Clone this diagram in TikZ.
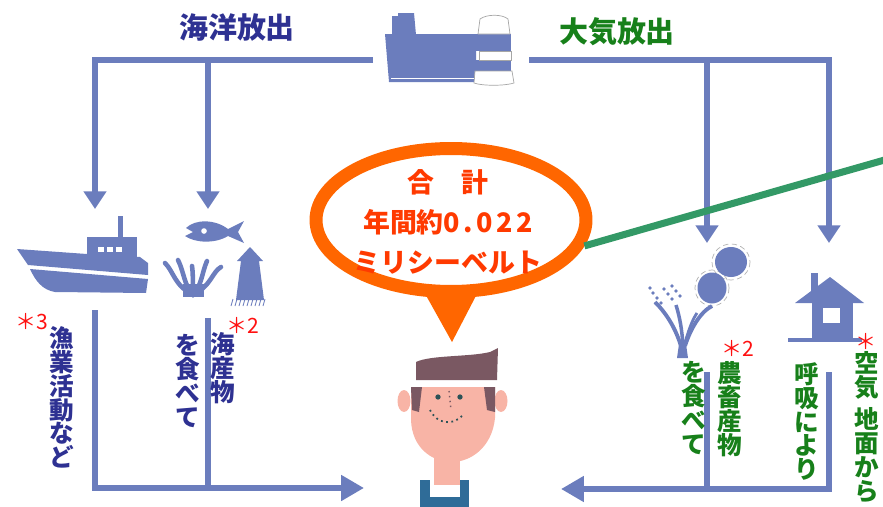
\documentclass[tikz,border=0pt]{standalone}
\usepackage{fontspec}
\newfontfamily\jp{Noto Sans CJK JP}
\usetikzlibrary{arrows.meta,shapes.geometric,calc}
\definecolor{flow}{HTML}{6B7DBD}
\definecolor{sea}{HTML}{2E3192}
\definecolor{air}{HTML}{17801A}
\definecolor{tot}{HTML}{FF6600}
\definecolor{totx}{HTML}{FF3A00}
\definecolor{star}{HTML}{FF1010}
\definecolor{lnk}{HTML}{339966}
\definecolor{skin}{HTML}{F8B4A6}
\definecolor{hair}{HTML}{7A5862}
\definecolor{shirt}{HTML}{2F6C98}
\definecolor{eye}{HTML}{2C5257}
\tikzset{
  pipe/.style={line width=3.5pt,draw=flow},
  ar/.style={pipe,-{Triangle[length=10pt,width=12.5pt]}},
  bar/.style={pipe,-{Triangle[length=13pt,width=14pt]}},
  ttl/.style={inner sep=0pt,font=\jp\bfseries\fontsize{16.5}{18}\selectfont},
  vlab/.style={inner sep=0pt,anchor=north,align=center,font=\jp\bfseries\fontsize{14}{13.6}\selectfont},
  ast/.style={inner sep=0pt,text=star,font=\jp\fontsize{12}{12}\selectfont},
}

\begin{document}
\begin{tikzpicture}[x=0.02cm,y=-0.02cm]
\useasboundingbox (0,0) rectangle (883,507);
\clip (0,0) rectangle (883,507);

% ---- release headings ----
\node[ttl,text=sea] (ocean) at (237,28) {海洋放出};
\node[ttl,text=air] (atmos) at (617,32) {大気放出};

% ---- plant ----
\fill[flow] (392,35) -- (392,16) -- (398,16) -- (398,13) -- (414,13) -- (416,35) -- cycle;
\fill[flow] (385,34) -- (476,34) -- (476,82) -- (389,82) -- cycle;
\draw[white,thin] (391,78) -- (474,78);
\fill[flow] (476,34) rectangle (511,51); \fill[flow] (476,60) rectangle (511,71);
\filldraw[fill=white,draw=gray!70,thin] (478,34) -- (480,19) .. controls (487,14) and (502,14) .. (508,19) -- (510,34) -- cycle;
\filldraw[fill=white,draw=gray!70,thin] (479,51) rectangle (511,60);
\filldraw[fill=white,draw=gray!70,thin] (475,71) -- (512,71) -- (514,83) .. controls (505,86) and (482,86) .. (474,83) -- cycle;
\coordinate (plant-w) at (373,60);
\coordinate (plant-e) at (529,60);

% ---- ocean side ----
\coordinate (boat-in) at (95,209);
\coordinate (fish-in) at (208,209);
\draw[ar] (plant-w) -| (boat-in);
\draw[ar] (fish-in|-plant-w) -- (fish-in);
% boat
\fill[flow] (118,216) rectangle (123,238);
\fill[flow] (87,237) rectangle (137,257);
\foreach \w in {98,107,116}{\fill[white] (\w,247) rectangle ++(6,5);}
\fill[flow] (17,249) -- (87,254) -- (140,257) -- (148,263) -- (148,275) -- (28,265) -- cycle;
\fill[flow] (30,269) -- (148,279) -- (146,293) -- (55,292) .. controls (42,290) and (35,280) .. (30,269) -- cycle;
% fish
\fill[flow] (186,228) .. controls (195,219) and (215,219) .. (228,229) -- (244,221) -- (238,232) -- (244,243)
  -- (228,236) .. controls (215,244) and (195,243) .. (185,236) -- (193,232) -- cycle;
\fill[white] (204,231) circle [radius=1.6pt];
% seaweed
\fill[flow] (183,284) rectangle (204,297);
\foreach \tx/\ty/\cx in {165/263/174,178/260/184,192/266/193,207/261/202,221/267/212}{
  \draw[flow,line width=2.6pt,line cap=round] (193,295) .. controls (\cx,285) and (\cx,272) .. (\tx,\ty);}
% lighthouse
\fill[flow] (250,247) -- (263,261) -- (259,261) -- (264,300) -- (236,300) -- (241,261) -- (237,261) -- cycle;
\foreach \g in {233,237,...,267}{\draw[flow,line width=0.5pt] (\g,299) -- (\g-2,306);}

% ---- air side ----
\coordinate (crop-in) at (707,243);
\coordinate (house-in) at (829,243);
\draw[ar] (plant-e) -| (house-in);
\draw[ar] (crop-in|-plant-e) -- (crop-in);
% potatoes
\draw[gray!60,densely dashed,thin] (731,262) ellipse [x radius=19,y radius=18] (712,288) ellipse [x radius=17,y radius=18];
\fill[flow] (731,262) ellipse [x radius=16,y radius=15];
\fill[flow] (712,288) ellipse [x radius=14.5,y radius=15.5];
% rice
\fill[flow] (677,358) -- (679,344) -- (686,344) -- (688,358) -- cycle;
\draw[flow,line width=2.2pt] (681,346) .. controls (676,330) and (668,315) .. (655,302);
\draw[flow,line width=2pt] (683,346) .. controls (682,330) and (680,318) .. (676,305);
\draw[flow,line width=2.2pt] (685,346) .. controls (690,330) and (700,312) .. (712,306);
\draw[flow,line width=1.6pt] (684,346) .. controls (688,332) and (692,320) .. (697,313);
\foreach \gx/\gy in {650/288,653/293,657/298,661/303,664/289,668/294,672/299,672/286,676/291,680/296}{
  \fill[flow] (\gx,\gy) circle [radius=1.1pt];}
% house
\fill[flow] (811,273) rectangle (818,292);
\fill[flow] (795,303) -- (830,277) -- (864,303) -- cycle;
\fill[flow] (812,300) rectangle (853,340);
\fill[white] (823,308) rectangle (840,323);
\draw[flow,line width=2pt] (788,340) -- (862,340);

% ---- total ----
\fill[tot] (423,290) -- (479,290) -- (452,342) -- cycle;
\node[ellipse,draw=tot,fill=white,line width=7.4pt,minimum width=5.4cm,minimum height=2.86cm,inner sep=0pt] (bubble) at (451,220) {};
\node[align=center,text=totx,inner sep=0pt,font=\jp\bfseries\fontsize{15.3}{22.7}\selectfont] (total) at (448,222)
  {合\quad 計\\年間約0\kern2pt.\kern2pt0\kern2pt2\kern2pt2\\ミリシーベルト};
\coordinate (off) at (895,157);
\draw[lnk,line width=4pt] (bubble.-11) -- (off);

% ---- intake ----
\coordinate (boat-out) at (95,310);
\coordinate (fish-out) at (208,318);
\coordinate (face-w) at (364,488);
\draw[bar] (boat-out) |- (face-w);
\draw[pipe] (fish-out) -- (fish-out|-face-w);
\coordinate (crop-out) at (707,372);
\coordinate (house-out) at (829,372);
\coordinate (face-e) at (561,489);
\draw[bar] (house-out) |- (face-e);
\draw[pipe] (crop-out) -- (crop-out|-face-e);

\node[vlab,text=sea] (fishery) at (62,326) {漁\\業\\活\\動\\な\\ど};
\node[ast] (n3) at (32,322) {＊3};
\node[vlab,text=sea] (eat-l) at (188,334) {を\\食\\べ\\て};
\node[vlab,text=sea] (seafood) at (223,332) {海\\産\\物};
\node[ast] (n2l) at (243,325) {＊2};
\node[vlab,text=air] (eat-r) at (694,361) {を\\食\\べ\\て};
\node[vlab,text=air] (farm) at (730,361) {農\\畜\\産\\物};
\node[ast] (n2r) at (738,348) {＊2};
\node[vlab,text=air] (breath) at (807,362) {呼\\吸\\に\\よ\\り};
\node[ast] (n1) at (866,341) {＊};
\node[vlab,text=air] (ground) at (867,351) {空\\気\\[5pt]地\\面\\か\\ら};

% ---- person ----
\fill[skin] (404,401) ellipse [x radius=6.5,y radius=11];
\fill[skin] (501,401) ellipse [x radius=6.5,y radius=11];
\fill[shirt] (420,480) rectangle (469,507);
\fill[white] (430,478) rectangle (460,497);
\fill[skin] (434,452) rectangle (460,485);
\fill[skin] (411,387) -- (495,387) -- (495,418) .. controls (492,448) and (470,462) .. (452,462)
  .. controls (432,462) and (412,448) .. (411,420) -- cycle;
\fill[hair] (416,362) .. controls (430,355) and (470,357) .. (490,352) -- (498,348) -- (497,380) -- (416,380) -- cycle;
\fill[hair] (411,387) -- (422,387) -- (419,412) -- (412,410) -- cycle;
\fill[hair] (484,387) -- (495,387) -- (495,412) -- (487,410) -- cycle;
\fill[eye] (438,397) circle [radius=1.5pt] (460,397) circle [radius=1.5pt];
\draw[eye,dotted,line width=1pt] (430,410) .. controls (437,424) and (452,426) .. (462,416);
\draw[hair,dotted,line width=0.8pt] (449,391) -- (451,410);
\end{tikzpicture}
\end{document}
